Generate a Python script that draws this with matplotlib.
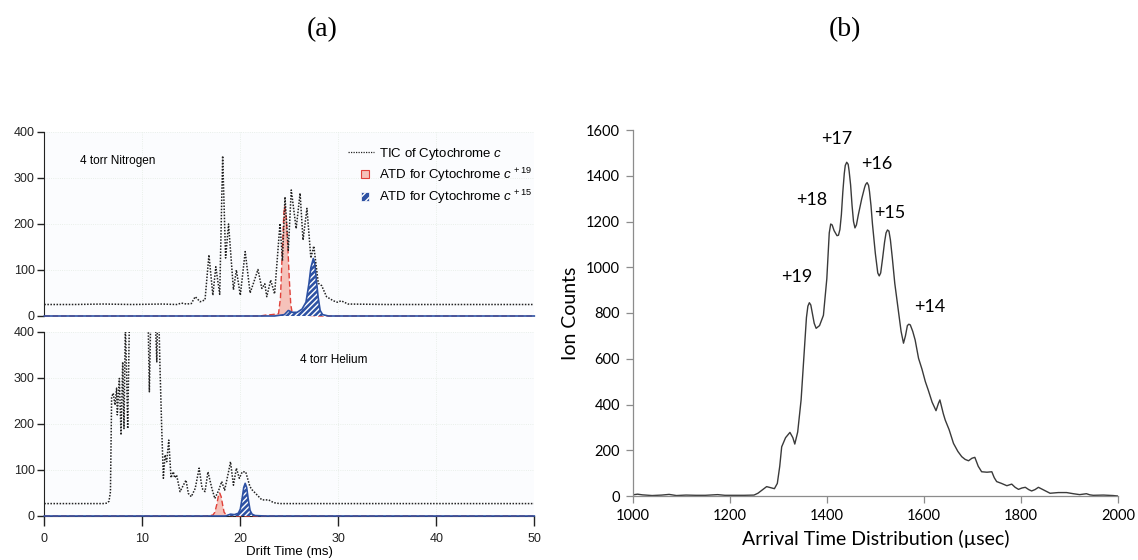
import matplotlib
matplotlib.use('Agg')
import matplotlib.pyplot as plt
from matplotlib.lines import Line2D
from matplotlib.patches import Patch, Rectangle
from matplotlib.legend_handler import HandlerPatch

plt.rcParams['font.family'] = ['Liberation Sans', 'DejaVu Sans']
plt.rcParams['mathtext.fontset'] = 'custom'
plt.rcParams['mathtext.rm'] = 'Liberation Sans'
plt.rcParams['mathtext.it'] = 'Liberation Sans:italic'
plt.rcParams['hatch.linewidth'] = 1.0

# ---------------- data: panel (a), 4 torr nitrogen ----------------
n_tic_x = [0, 3, 6, 9, 12, 13.5, 14.0, 14.5, 15.0, 15.4, 15.9, 16.4, 16.8, 17.2, 17.5, 17.9,
           18.2, 18.5, 18.8, 19.3, 19.6, 20.0, 20.5, 21.0, 21.4, 21.8, 22.2, 22.5, 22.7,
           23.1, 23.5, 24.05, 24.3, 24.56, 24.9, 25.2, 25.7, 26.1, 26.4, 26.8, 27.2, 27.5,
           27.96, 28.3, 28.8, 29.5, 29.9, 30.3, 31, 35, 40, 45, 50]
n_tic_y = [25, 25, 26, 25, 26, 25, 28, 26, 27, 42, 31, 35, 133, 45, 107, 47,
           348, 126, 200, 57, 100, 45, 140, 50, 75, 101, 60, 70, 42,
           78, 48, 201, 120, 259, 143, 274, 190, 267, 165, 234, 126, 152,
           71, 66, 42, 33, 30, 33, 26, 25, 25, 25, 25]
n_red_x = [0, 22.0, 22.6, 23.2, 23.9, 24.1, 24.3, 24.45, 24.55, 24.7, 24.85, 25.0,
           25.15, 25.3, 25.6, 26.5, 28, 50]
n_red_y = [0, 0, 2, 3, 5, 40, 150, 225, 238, 210, 150, 80, 25, 6, 3, 2, 0, 0]
n_blue_x = [0, 23.5, 24.5, 24.9, 25.3, 25.8, 26.3, 26.7, 27.0, 27.2, 27.45, 27.6, 27.75,
            27.95, 28.15, 28.4, 29.0, 50]
n_blue_y = [0, 0, 3, 12, 8, 8, 15, 30, 70, 105, 125, 115, 80, 40, 12, 3, 0, 0]

# ---------------- data: panel (a), 4 torr helium ----------------
h_tic_x = [0, 2, 4, 6.0, 6.4, 6.6, 6.75, 6.87, 7.04, 7.21, 7.38, 7.45, 7.66, 7.83, 8.0,
           8.13, 8.27, 8.4, 8.51, 8.68, 9.0, 9.6, 10.2, 10.6, 10.72, 10.85, 11.2, 11.48,
           11.55, 11.7, 11.8, 11.97, 12.15, 12.32, 12.49, 12.7, 12.93, 13.17, 13.3, 13.5,
           13.85, 14.46, 14.7, 15.0, 15.4, 15.8, 16.1, 16.4, 16.7, 17.1, 17.4, 17.8, 18.1,
           18.4, 18.8, 19.0, 19.3, 19.6, 19.9, 20.2, 20.55, 20.98, 21.2, 21.7, 22.2, 22.9,
           23.4, 24.0, 30, 40, 50]
h_tic_y = [27, 27, 27, 27, 28, 32, 53, 259, 267, 241, 278, 220, 299, 176, 335,
           190, 420, 306, 190, 420, 500, 600, 500, 420, 270, 420, 500, 335,
           420, 420, 328, 198, 82, 133, 118, 165, 83, 96, 83, 89,
           53, 78, 49, 42, 60, 104, 60, 53, 96, 60, 38, 56, 75,
           56, 96, 118, 67, 104, 82, 96, 96, 64, 57, 46, 35, 35,
           29, 27, 27, 27, 27]
h_red_x = [0, 16.5, 17.2, 17.4, 17.6, 17.75, 17.9, 18.05, 18.2, 18.35, 18.6, 19.5, 50]
h_red_y = [0, 0, 2, 8, 25, 42, 50, 42, 24, 8, 2, 0, 0]
h_blue_x = [0, 18.5, 19.0, 19.4, 19.8, 20.0, 20.2, 20.35, 20.5, 20.65, 20.8, 21.0, 21.2,
            21.5, 22.5, 50]
h_blue_y = [0, 0, 4, 3, 6, 15, 40, 62, 71, 62, 38, 12, 4, 1, 0, 0]

a_yticks = [0, 100, 200, 300, 400]
a_xticks = [0, 10, 20, 30, 40, 50]

# ---------------- data: panel (b) ----------------
b_x = [1000, 1010, 1020, 1040, 1060, 1075, 1090, 1110, 1130, 1150, 1175, 1190, 1210, 1230,
       1250, 1258, 1266, 1276, 1285, 1292, 1298, 1303, 1307, 1315, 1324, 1330, 1334, 1340,
       1347, 1355, 1358, 1361, 1364, 1367, 1371, 1374, 1378, 1385, 1393, 1400, 1405, 1408,
       1411, 1415, 1421, 1424, 1427, 1430, 1433, 1436, 1438, 1441, 1444, 1446, 1449, 1452,
       1455, 1458, 1461, 1465, 1472, 1478, 1480, 1483, 1486, 1488, 1491, 1494, 1500, 1505,
       1508, 1511, 1515, 1519, 1522, 1525, 1528, 1531, 1535, 1540, 1548, 1553, 1558, 1562,
       1566, 1569, 1572, 1577, 1582, 1589, 1596, 1603, 1609, 1617, 1625, 1630, 1633, 1636,
       1640, 1644, 1652, 1661, 1670, 1678, 1685, 1692, 1699, 1705, 1712, 1719, 1730, 1740,
       1745, 1750, 1760, 1771, 1781, 1788, 1795, 1802, 1809, 1816, 1822, 1829, 1836, 1848,
       1860, 1877, 1894, 1908, 1921, 1928, 1935, 1942, 1949, 1970, 1990, 2000]
b_y = [5, 8, 5, 2, 4, 7, 2, 4, 3, 3, 6, 3, 3, 3,
       4, 12, 25, 41, 36, 32, 55, 130, 215, 255, 278, 255, 227, 280,
       420, 682, 780, 830, 845, 835, 790, 755, 733, 745, 790, 950, 1150, 1189,
       1185, 1160, 1138, 1140, 1165, 1230, 1330, 1410, 1445, 1459, 1450, 1420, 1360, 1270,
       1200, 1172, 1185, 1230, 1300, 1350, 1362, 1370, 1358, 1330, 1270, 1190, 1060, 975,
       962, 975, 1040, 1110, 1150, 1163, 1158, 1120, 1040, 930, 800, 720, 668, 700,
       745, 751, 748, 720, 682, 602, 555, 500, 463, 410, 373, 405, 420, 395,
       360, 332, 290, 230, 195, 172, 160, 154, 165, 169, 130, 106, 104, 106,
       80, 63, 55, 45, 52, 38, 29, 35, 38, 28, 22, 28, 38, 25,
       12, 15, 15, 10, 6, 8, 10, 5, 3, 4, 2, 0]
b_labels = ['+17', '+16', '+18', '+15', '+19', '+14']
b_label_x = [1421, 1503, 1369, 1530, 1339, 1613]
b_label_y = [1561, 1451, 1294, 1237, 957, 826]
b_xticks = [1000, 1200, 1400, 1600, 1800, 2000]
b_yticks = [0, 200, 400, 600, 800, 1000, 1200, 1400, 1600]

# ---------------- figure ----------------
W, H = 1138, 560
fig = plt.figure(figsize=(W / 100, H / 100), dpi=100)


def box(l, t, r, b):
    return [l / W, 1 - b / H, (r - l) / W, (b - t) / H]


ax1 = fig.add_axes(box(44.3, 132, 534.3, 316))
ax2 = fig.add_axes(box(44.3, 332, 534.3, 516))
ax3 = fig.add_axes(box(632.7, 130, 1118, 496))

RED_FILL = '#f5c2ba'
RED_EDGE = '#e0413a'
BLUE = '#2d51a3'
TIC_C = '#222222'


def style_a(ax, bottom):
    ax.set_xlim(0, 50)
    ax.set_ylim(0, 400)
    ax.set_facecolor('#fbfcfe')
    for s in ['top', 'right']:
        ax.spines[s].set_visible(False)
    ax.spines['left'].set_color('#222222')
    ax.set_yticks(a_yticks)
    ax.set_xticks(a_xticks)
    ax.tick_params(axis='y', length=5, width=1, labelsize=9, pad=2, colors='#222222')
    ax.grid(True, color='#e3ebe3', lw=0.6, ls=':')
    ax.set_axisbelow(True)
    if bottom:
        ax.spines['bottom'].set_color('#222222')
        ax.tick_params(axis='x', length=7, width=1, labelsize=9, pad=5, colors='#222222')
    else:
        ax.spines['bottom'].set_visible(False)
        ax.tick_params(axis='x', length=0, labelbottom=False)


def draw_a(ax, tx, ty, rx, ry, bx, by):
    ax.fill_between(rx, ry, 0, facecolor=RED_FILL, edgecolor='none', zorder=2)
    ax.plot(rx, ry, color=RED_EDGE, lw=1.0, ls=(0, (4, 2)), zorder=3, clip_on=False)
    ax.fill_between(bx, by, 0, facecolor=BLUE, edgecolor='white', hatch='//////', lw=0, zorder=4)
    ax.plot(bx, by, color=BLUE, lw=1.2, zorder=5, clip_on=False)
    ax.plot(tx, ty, color=TIC_C, lw=1.1, ls=(0, (1, 1)), zorder=6)


style_a(ax1, False)
style_a(ax2, True)
draw_a(ax1, n_tic_x, n_tic_y, n_red_x, n_red_y, n_blue_x, n_blue_y)
draw_a(ax2, h_tic_x, h_tic_y, h_red_x, h_red_y, h_blue_x, h_blue_y)

ax1.text(3.6, 337, '4 torr Nitrogen', fontsize=8.5, va='center', ha='left')
ax2.text(26.1, 339, '4 torr Helium', fontsize=8.5, va='center', ha='left')
ax2.set_xlabel('Drift Time (ms)', fontsize=9.5, labelpad=1)


class SqHandler(HandlerPatch):
    def create_artists(self, legend, orig_handle, xdescent, ydescent, width, height,
                       fontsize, trans):
        s = height * 0.95
        p = Rectangle((width - s - 3 - xdescent, -ydescent + (height - s) / 2), s, s)
        self.update_prop(p, orig_handle, legend)
        p.set_transform(trans)
        return [p]


h1 = Line2D([], [], color=TIC_C, ls=(0, (1, 1)), lw=0.9)
h2 = Patch(facecolor=RED_FILL, edgecolor=RED_EDGE, lw=0.8)
h3 = Patch(facecolor=BLUE, edgecolor='white', hatch='////', lw=0.5)
ax1.legend([h1, h2, h3],
           ['TIC of Cytochrome $\\mathit{c}$',
            'ATD for Cytochrome $\\mathit{c}^{\\,+19}$',
            'ATD for Cytochrome $\\mathit{c}^{\\,+15}$'],
           handler_map={Patch: SqHandler()},
           loc='upper left', bbox_to_anchor=(0.61, 0.955), frameon=False,
           fontsize=9.5, handlelength=1.9, handletextpad=0.45, labelspacing=0.3,
           borderaxespad=0)

# ---------------- panel (b) ----------------
LATO = ['Lato', 'DejaVu Sans']
ax3.plot(b_x, b_y, color='#3a3a3a', lw=1.0)
ax3.set_xlim(1000, 2000)
ax3.set_ylim(0, 1600)
for s in ['top', 'right']:
    ax3.spines[s].set_visible(False)
for s in ['left', 'bottom']:
    ax3.spines[s].set_color('#8c8c8c')
    ax3.spines[s].set_linewidth(0.9)
ax3.set_xticks(b_xticks)
ax3.set_yticks(b_yticks)
ax3.tick_params(axis='both', length=5, width=0.9, color='#8c8c8c', labelsize=10.5, pad=4)
for lab in ax3.get_xticklabels() + ax3.get_yticklabels():
    lab.set_family(LATO)
ax3.set_ylabel('Ion Counts', fontsize=14, family=LATO, labelpad=5)
ax3.set_xlabel('Arrival Time Distribution (µsec)', fontsize=14, family=LATO, labelpad=5)
for t, x, y in zip(b_labels, b_label_x, b_label_y):
    ax3.text(x, y, t, fontsize=13, family=LATO, ha='center', va='center')

fig.text(322 / W, 1 - 30 / H, '(a)', family='Liberation Serif', fontsize=20,
         ha='center', va='center')
fig.text(845 / W, 1 - 30 / H, '(b)', family='Liberation Serif', fontsize=20,
         ha='center', va='center')

fig.savefig('out.png', dpi=100, facecolor='white')
